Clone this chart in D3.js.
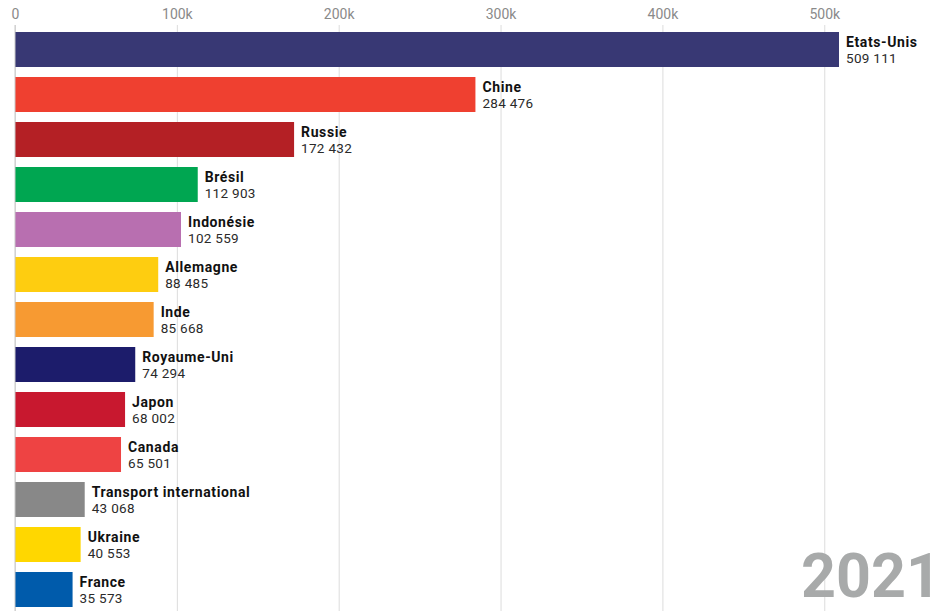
<!DOCTYPE html>
<html>
<head>
<meta charset="utf-8">
<script src="https://cdn.jsdelivr.net/npm/d3@7"></script>
<style>
  html, body { margin: 0; padding: 0; background: #fff; }
  svg { display: block; }
</style>
</head>
<body>
<svg id="chart" width="943" height="611"></svg>
<script>
// CO2-type emissions ranking, year 2021
const countries = ["Etats-Unis", "Chine", "Russie", "Brésil", "Indonésie", "Allemagne", "Inde",
  "Royaume-Uni", "Japon", "Canada", "Transport international", "Ukraine", "France"];
const values = [509111, 284476, 172432, 112903, 102559, 88485, 85668, 74294, 68002, 65501, 43068, 40553, 35573];
const colors = ["#383874", "#ef4030", "#b42025", "#00a651", "#b86fb0", "#fecd10", "#f79a32",
  "#1c1c6b", "#c8182f", "#ee4343", "#888888", "#ffd700", "#005bab"];
const tickValues = [0, 100000, 200000, 300000, 400000, 500000];
const tickLabels = ["0", "100k", "200k", "300k", "400k", "500k"];
const yearLabel = "2021";

const svg = d3.select("#chart");
const W = 943, H = 611;
const left = 15;

const x = d3.scaleLinear().domain([0, d3.max(values)]).range([left, 839]);
const y = d3.scaleBand().domain(countries).range([32, 607]).paddingInner(10 / 45).paddingOuter(0);

const fmt = v => d3.format(",")(v).replace(/,/g, " ");

// Axis along the top with gridlines running down the chart
const axis = d3.axisTop(x)
  .tickValues(tickValues)
  .tickFormat((d, i) => tickLabels[i])
  .tickSize(-(H - 25))
  .tickSizeOuter(0);

const gAxis = svg.append("g").attr("transform", "translate(0,25)").call(axis);
gAxis.select(".domain").remove();
gAxis.selectAll(".tick line").attr("stroke", "#dcdcdc").attr("stroke-width", 1);
gAxis.selectAll(".tick text")
  .attr("fill", "#8a8a8a")
  .attr("font-family", "Roboto, 'Noto Sans', sans-serif")
  .attr("font-size", 14)
  .attr("dy", "-0.2em");

const rows = countries.map((c, i) => ({ name: c, value: values[i], color: colors[i] }));

svg.append("g").selectAll("rect")
  .data(rows)
  .join("rect")
  .attr("x", x(0))
  .attr("y", d => y(d.name))
  .attr("width", d => x(d.value) - x(0))
  .attr("height", y.bandwidth())
  .attr("fill", d => d.color);

// Baseline at zero
svg.append("line")
  .attr("x1", x(0)).attr("x2", x(0))
  .attr("y1", 25).attr("y2", H)
  .attr("stroke", "#c8c8c8");

const labels = svg.append("g").selectAll("g")
  .data(rows)
  .join("g")
  .attr("transform", d => `translate(${x(d.value) + 7},${y(d.name)})`);

labels.append("text")
  .attr("y", 14.5)
  .attr("font-family", "Roboto, 'Noto Sans', sans-serif")
  .attr("font-weight", "bold")
  .attr("font-size", 14)
  .attr("letter-spacing", 0.6)
  .attr("fill", "#111")
  .text(d => d.name);

labels.append("text")
  .attr("y", 30.5)
  .attr("font-family", "Roboto, 'Noto Sans', sans-serif")
  .attr("font-size", 13.5)
  .attr("letter-spacing", 0.3)
  .attr("fill", "#2a2a2a")
  .text(d => fmt(d.value));

svg.append("text")
  .attr("x", 941)
  .attr("y", 597)
  .attr("text-anchor", "end")
  .attr("font-family", "Roboto, 'Noto Sans', sans-serif")
  .attr("font-weight", "bold")
  .attr("font-size", 61)
  .attr("fill", "#a8aaaa")
  .text(yearLabel);
</script>
</body>
</html>
